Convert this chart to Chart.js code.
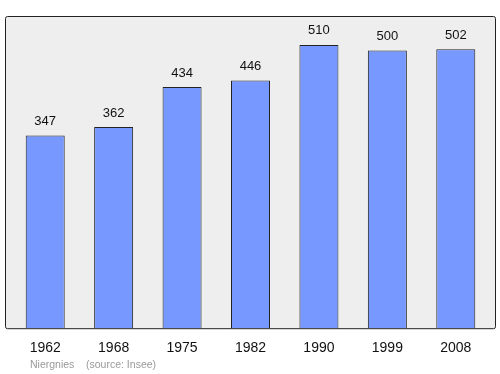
<!DOCTYPE html>
<html>
<head>
<meta charset="utf-8">
<script src="https://cdn.jsdelivr.net/npm/chart.js@4"></script>
<style>
  html, body { margin: 0; padding: 0; background: #fff; }
  #wrap { width: 500px; height: 374px; position: relative; }
</style>
</head>
<body>
<div id="wrap"><canvas id="chart"></canvas></div>
<script>
// data
const years = ["1962", "1968", "1975", "1982", "1990", "1999", "2008"];
const population = [347, 362, 434, 446, 510, 500, 502];
const footerText = "Niergnies    (source: Insee)";

const FONT = "'Liberation Sans', Arial, sans-serif";

// plot background box + value labels + footer
const decor = {
  id: "decor",
  beforeDatasetsDraw(chart) {
    const { ctx, chartArea } = chart;
    ctx.save();
    ctx.fillStyle = "#eeeeee";
    ctx.strokeStyle = "#222";
    ctx.lineWidth = 1;
    const x = 5.5, y = chartArea.top + 0.5;
    const w = 490, h = chartArea.bottom - chartArea.top;
    ctx.beginPath();
    ctx.roundRect(x, y, w, h, 2);
    ctx.fill();
    ctx.stroke();
    ctx.restore();
  },
  afterDatasetsDraw(chart) {
    const { ctx } = chart;
    const meta = chart.getDatasetMeta(0);
    ctx.save();
    ctx.fillStyle = "#111";
    ctx.font = "13px " + FONT;
    ctx.textAlign = "center";
    ctx.textBaseline = "middle";
    meta.data.forEach((bar, i) => {
      ctx.fillText(String(population[i]), bar.x, bar.y - 14);
    });
    ctx.fillStyle = "#999";
    ctx.font = "10.5px " + FONT;
    ctx.textAlign = "left";
    ctx.fillText(footerText, 30, 365);
    ctx.restore();
  }
};

new Chart(document.getElementById("chart"), {
  type: "bar",
  data: {
    labels: years,
    datasets: [{
      data: population,
      backgroundColor: "#7799ff",
      borderColor: "#222",
      borderWidth: 1,
      barPercentage: 0.57,
      categoryPercentage: 1
    }]
  },
  options: {
    responsive: true,
    maintainAspectRatio: false,
    animation: false,
    layout: { padding: { left: 11, right: 10, top: 16, bottom: 13 } },
    plugins: { legend: { display: false }, tooltip: { enabled: false } },
    scales: {
      y: { display: false, min: 0, max: 562 },
      x: {
        grid: { display: false },
        border: { display: false },
        ticks: {
          padding: 4,
          color: "#111",
          font: { size: 14, family: FONT }
        }
      }
    }
  },
  plugins: [decor]
});
</script>
</body>
</html>
